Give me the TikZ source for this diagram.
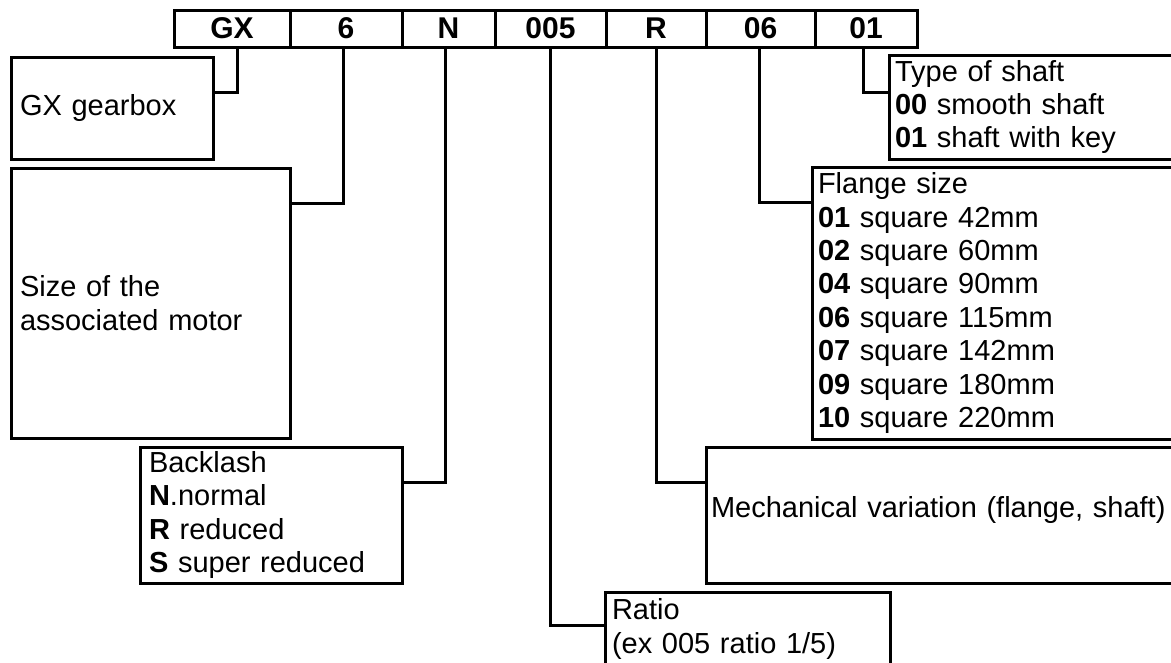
\documentclass[tikz,border=0pt]{standalone}
\usepackage{fontspec}
\setmainfont{Liberation Sans}
\newcommand{\txtfont}{\fontsize{29}{33.4}\selectfont}
\newcommand{\hdfont}{\fontsize{30}{34}\selectfont\bfseries}
\begin{document}
\begin{tikzpicture}[x=1pt,y=-1pt,
  lw/.style={line width=3pt},
  cell/.style={draw, lw, anchor=north west, inner sep=0pt, outer sep=0pt, minimum height=37pt, font=\hdfont},
  box/.style={draw, lw, anchor=north west, inner ysep=0pt, outer sep=0pt, align=left, font=\txtfont},
  conn/.style={lw}]
\fill[white] (0,0) rectangle (1171,662);
\useasboundingbox (0,0) rectangle (1171,662);
\clip (0,0) rectangle (1171,662);
% code cells
\node[cell, minimum width=116pt] (c1) at (174,10) {GX};
\node[cell, minimum width=112pt] (c2) at (290,10) {6};
\node[cell, minimum width=93pt]  (c3) at (402,10) {N};
\node[cell, minimum width=111pt] (c4) at (495,10) {005};
\node[cell, minimum width=100pt] (c5) at (606,10) {R};
\node[cell, minimum width=109pt] (c6) at (706,10) {06};
\node[cell, minimum width=102pt] (c7) at (815,10) {01};
% description boxes
\node[box, minimum width=202pt, minimum height=102pt, inner xsep=9pt, text width=184pt] (gx) at (11,57) {GX gearbox};
\node[box, minimum width=279pt, minimum height=270pt, inner xsep=9pt, text width=261pt] (motor) at (11,168) {Size of the\\associated motor};
\node[box, minimum width=262pt, minimum height=136pt, inner xsep=9pt, text width=244pt] (bk) at (140,447)
  {Backlash\\{\bfseries N}.normal\\{\bfseries R} reduced\\{\bfseries S} super reduced};
\node[box, minimum width=320pt, minimum height=104pt, inner xsep=6pt, text width=308pt] (type) at (889,55)
  {Type of shaft\\{\bfseries 00} smooth shaft\\{\bfseries 01} shaft with key};
\node[box, minimum width=400pt, minimum height=272pt, inner xsep=6pt, text width=388pt] (fl) at (812,167)
  {Flange size\\{\bfseries 01} square 42mm\\{\bfseries 02} square 60mm\\{\bfseries 04} square 90mm\\{\bfseries 06} square 115mm\\{\bfseries 07} square 142mm\\{\bfseries 09} square 180mm\\{\bfseries 10} square 220mm};
\node[box, minimum width=500pt, minimum height=136pt, inner xsep=5pt, text width=490pt, text height=21pt, text depth=16pt] (mech) at (706,447)
  {Mechanical variation (flange, shaft)};
\node[box, minimum width=285pt, minimum height=74pt, inner xsep=7pt, text width=271pt] (ratio) at (605,592)
  {Ratio\\(ex 005 ratio 1/5)};
% connectors
\draw[conn] ([xshift=5pt]c1.south) |- ([yshift=-35pt]gx.north east);
\draw[conn] ([xshift=-3pt]c2.south) |- ([yshift=-35pt]motor.north east);
\draw[conn] ([xshift=-3.5pt]c3.south) |- ([yshift=-35pt]bk.north east);
\draw[conn] (c4.south) |- ([yshift=-33pt]ratio.north west);
\draw[conn] (c5.south) |- ([yshift=-35pt]mech.north west);
\draw[conn] ([xshift=-1.5pt]c6.south) |- ([yshift=-35pt]fl.north west);
\draw[conn] ([xshift=-3pt]c7.south) |- ([yshift=-37pt]type.north west);
\end{tikzpicture}
\end{document}
